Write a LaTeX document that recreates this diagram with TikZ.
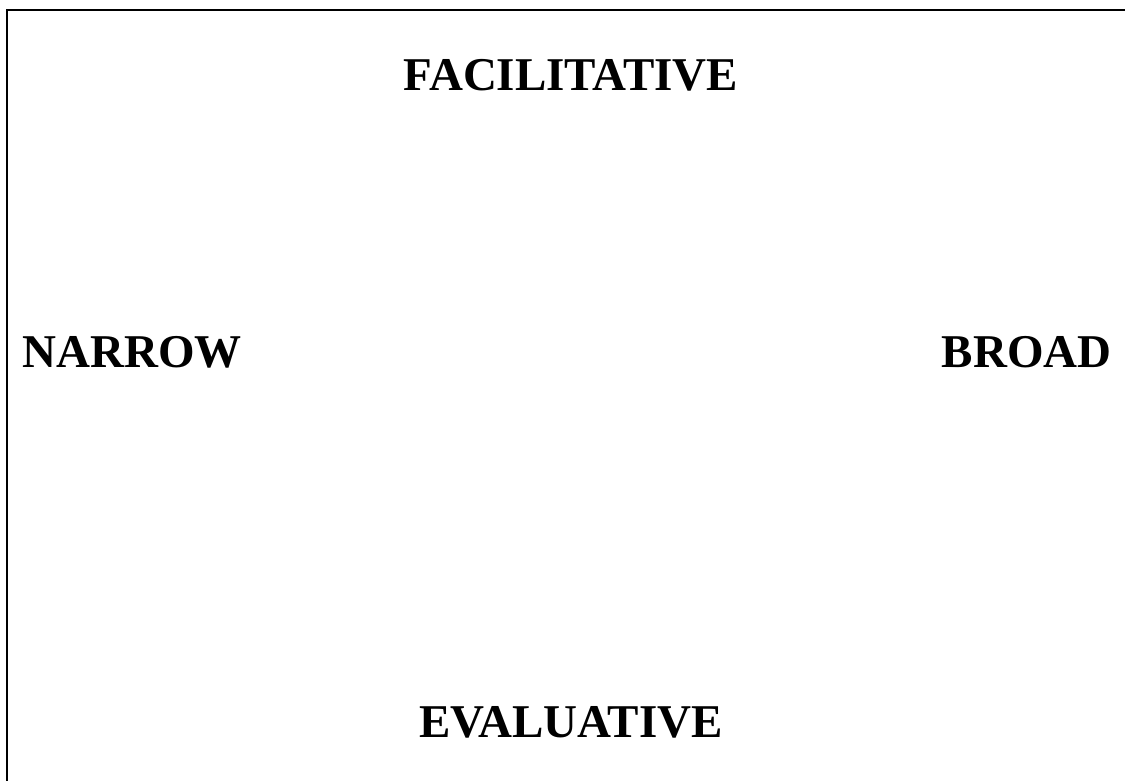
\documentclass[tikz,border=0pt]{standalone}
\usepackage{fontspec}
\setmainfont{Liberation Serif}
\usepackage{tikz}
\usetikzlibrary{positioning}

\begin{document}
\begin{tikzpicture}[x=1pt,y=-1pt,semithick]
	\tikzstyle{lbl}=[inner sep=0pt, font=\fontsize{47}{56}\selectfont\bfseries]
	\useasboundingbox (0,0) rectangle (1125,781);
	\coordinate (TL) at (7,10);
	\coordinate (TR) at (1125,10);
	\coordinate (BL) at (7,781);
	\draw[line width=2pt] (TR) -- (TL) -- (BL);
	\node[lbl, anchor=base] (F) at (571,91) {FACILITATIVE};
	\node[lbl, anchor=base west] (N) at (22,367) {NARROW};
	\node[lbl, anchor=base east] (B) at (1112,367) {BROAD};
	\node[lbl, anchor=base] (E) at (571,737) {EVALUATIVE};
\end{tikzpicture}
\end{document}
